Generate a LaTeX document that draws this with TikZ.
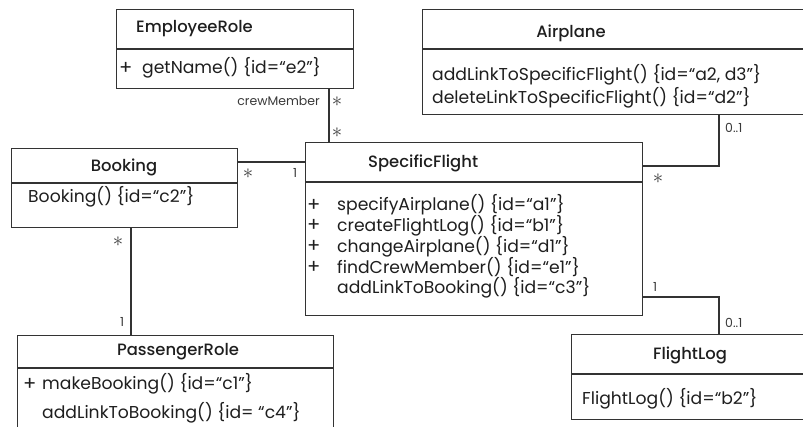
\documentclass[tikz,border=0pt]{standalone}
\usepackage{fontspec}
\setmainfont{Poppins}[BoldFont={Poppins Medium}]
\definecolor{linec}{HTML}{333333}
\definecolor{txt}{HTML}{1E1E1E}
\definecolor{lblc}{HTML}{3A3A3A}
\begin{document}
\begin{tikzpicture}[x=1pt,y=-1pt,
  box/.style={draw=linec, line width=1.4pt, rectangle, anchor=north west, inner sep=0pt},
  div/.style={draw=linec, line width=1.4pt},
  conn/.style={draw=linec, line width=1.1pt},
  ttl/.style={font=\fontsize{16.4}{19}\selectfont\bfseries, text=txt, inner sep=0pt},
  mth/.style={font=\fontsize{17.2}{20}\selectfont, text=txt, inner sep=0pt, anchor=west},
  plus/.style={font=\fontsize{19.5}{20}\selectfont, text=txt, inner sep=0pt, anchor=west},
  lbl/.style={font=\fontsize{12.5}{14}\selectfont, text=lblc, inner sep=0pt},
  star/.style={font=\fontsize{21}{21}\selectfont, text=lblc, inner sep=0pt}]
\useasboundingbox (0,0) rectangle (803,426);
\clip (0,0) rectangle (803,426);
% ---------------- boxes
\node[box, minimum width=237pt, minimum height=79pt] (emp) at (116,9) {};
\node[box, minimum width=226pt, minimum height=79pt] (book) at (11,148) {};
\node[box, minimum width=337pt, minimum height=173pt] (sf) at (305,142) {};
\node[box, minimum width=400pt, minimum height=105pt] (air) at (422,9) {};
\node[box, minimum width=316pt, minimum height=120pt] (pass) at (17,335) {};
\node[box, minimum width=250pt, minimum height=85pt] (log) at (571,334) {};
% dividers
\coordinate (dE) at (0,49);
\coordinate (dB) at (0,183);
\coordinate (dS) at (0,182);
\coordinate (dA) at (0,49);
\coordinate (dP) at (0,368);
\coordinate (dL) at (0,374);
\draw[div] (emp.west |- dE) -- (emp.east |- dE);
\draw[div] (book.west |- dB) -- (book.east |- dB);
\draw[div] (sf.west |- dS) -- (sf.east |- dS);
\draw[div] (air.west |- dA) -- (air.east |- dA);
\draw[div] (pass.west |- dP) -- (pass.east |- dP);
\draw[div] (log.west |- dL) -- (log.east |- dL);
% ---------------- titles
\node[ttl, anchor=west] (tE) at (136,29) {EmployeeRole};
\node[ttl] (tB) at (124,167) {Booking};
\node[ttl, anchor=west] (tS) at (368,163) {SpecificFlight};
\node[ttl] (tA) at (571,33) {Airplane};
\node[ttl] (tP) at (178,352) {PassengerRole};
\node[ttl] (tL) at (690,355) {FlightLog};
% ---------------- methods
\node[plus] (pE1) at (119,68) {+};
\node[mth] (mE1) at (142,68) {getName() \{id=“e2”\}};
\node[mth] (mB1) at (28,197) {Booking() \{id=“c2”\}};
\node[plus] (pS1) at (307,205) {+};
\node[mth] (mS1) at (337,205) {specifyAirplane() \{id=“a1”\}};
\node[plus] (pS2) at (307,225.7) {+};
\node[mth] (mS2) at (337,225.7) {createFlightLog() \{id=“b1”\}};
\node[plus] (pS3) at (307,246.3) {+};
\node[mth] (mS3) at (337,246.3) {changeAirplane() \{id=“d1”\}};
\node[plus] (pS4) at (307,267) {+};
\node[mth] (mS4) at (337,267) {findCrewMember() \{id=“e1”\}};
\node[mth] (mS5) at (337,287.7) {addLinkToBooking() \{id=“c3”\}};
\node[mth] (mA1) at (432,75) {addLinkToSpecificFlight() \{id=“a2, d3”\}};
\node[mth] (mA2) at (432,98) {deleteLinkToSpecificFlight() \{id=“d2”\}};
\node[plus] (pP1) at (23,384) {+};
\node[mth] (mP1) at (42,384) {makeBooking() \{id=“c1”\}};
\node[mth] (mP2) at (42,413) {addLinkToBooking() \{id= “c4”\}};
\node[mth] (mL1) at (582,399) {FlightLog() \{id=“b2”\}};
% ---------------- connectors
\coordinate (xC) at (329,0);
\coordinate (yBS) at (0,162);
\coordinate (yA) at (0,166);
\coordinate (xA) at (719,0);
\coordinate (yL) at (0,297);
\coordinate (xP) at (131,0);
\draw[conn] (emp.south -| xC) -- (sf.north -| xC);
\draw[conn] (book.east |- yBS) -- (sf.west |- yBS);
\draw[conn] (sf.east |- yA) -| (air.south -| xA);
\draw[conn] (sf.east |- yL) -| (log.north -| xA);
\draw[conn] (book.south -| xP) -- (pass.north -| xP);
% ---------------- multiplicities
\node[lbl, anchor=east] (crew) at (320,101) {crewMember};
\node[star] (s1) at (337,102) {$\ast$};
\node[star] (s2) at (337,133) {$\ast$};
\node[star] (s3) at (248,174) {$\ast$};
\node[lbl] (n1) at (295,173) {1};
\node[star] (s4) at (658,179) {$\ast$};
\node[lbl, anchor=west] (z1) at (725,128) {0..1};
\node[lbl] (n2) at (655,287) {1};
\node[lbl, anchor=west] (z2) at (725,323) {0..1};
\node[star] (s5) at (118,242) {$\ast$};
\node[lbl] (n3) at (122,322) {1};
\end{tikzpicture}
\end{document}
